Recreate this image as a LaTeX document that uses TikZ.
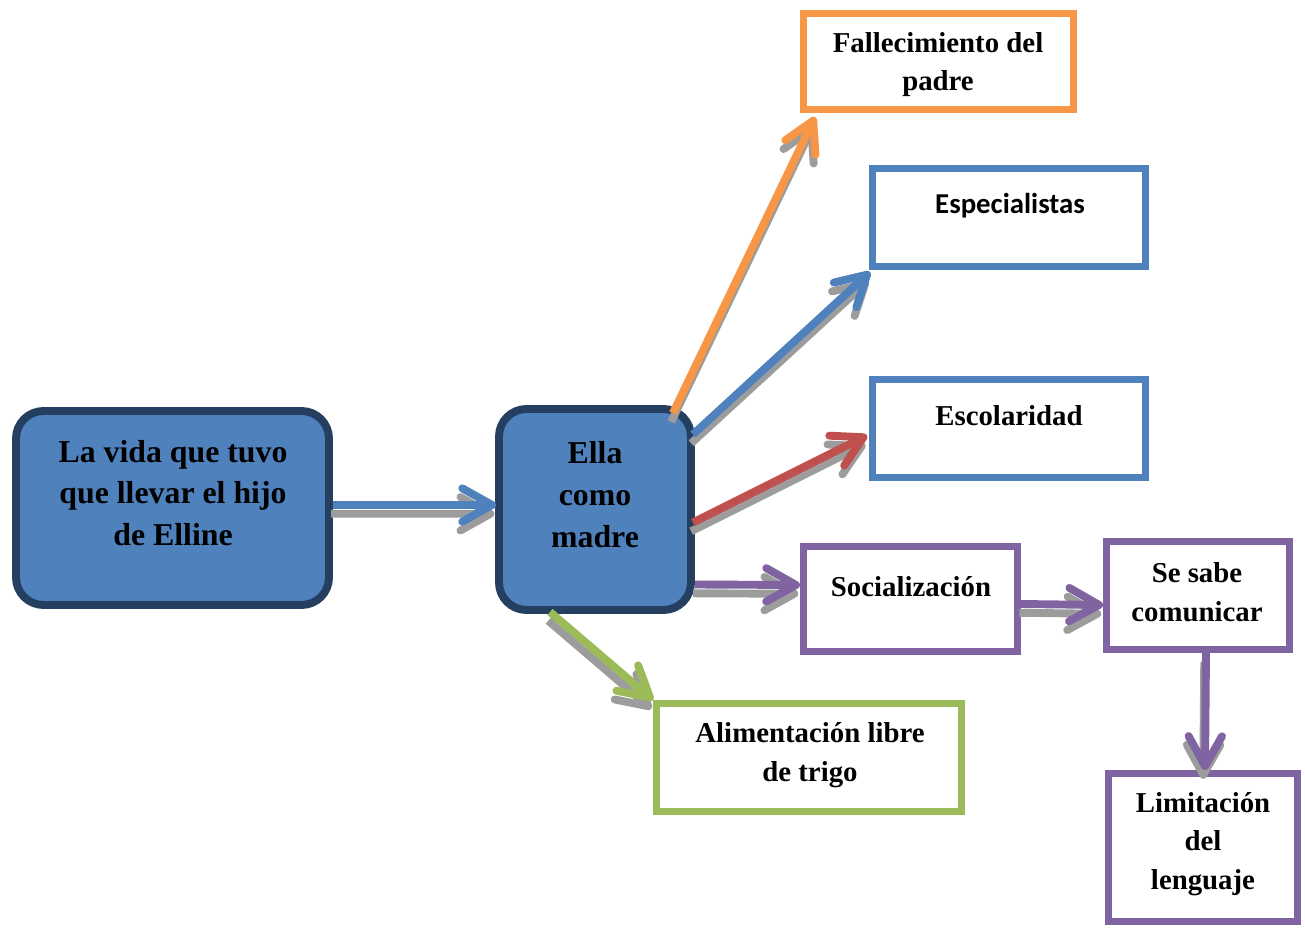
\documentclass[tikz,border=0pt]{standalone}
\usepackage{fontspec}
\setmainfont{Liberation Serif}
\newfontfamily\calfont{Carlito}
\usetikzlibrary{arrows.meta,calc,fit}
\definecolor{cblue}{HTML}{4F81BD}
\definecolor{cdark}{HTML}{243F60}
\definecolor{corange}{HTML}{F79646}
\definecolor{cred}{HTML}{C0504D}
\definecolor{cpurple}{HTML}{8064A2}
\definecolor{cgreen}{HTML}{9BBB59}
\definecolor{cshadow}{HTML}{9C9C9C}
\tikzset{
  rbox/.style={draw=cdark, fill=cblue, line width=4.5pt, rounded corners=0.55cm, inner sep=0pt},
  sbox/.style={line width=4pt, fill=white, inner sep=0pt},
  bigtxt/.style={font=\bfseries\fontsize{18.1}{23.8}\selectfont, align=center},
  smtxt/.style={font=\bfseries\fontsize{16.4}{22.1}\selectfont, align=center},
  arr/.style={line width=4.5pt, -{Straight Barb[length=17pt, width=19pt, round]}},
}
\newcommand\shadarrow[3]{%
  \draw[arr, draw=cshadow, transform canvas={xshift=-1pt,yshift=-5pt}] #2 -- #3;
  \draw[arr, draw=#1] #2 -- #3;}
\begin{document}
\begin{tikzpicture}[x=0.02cm, y=-0.02cm]
\useasboundingbox (0,0) rectangle (1305,928);
% boxes
\node[rbox, fit={(16,411)(329,605)}] (left) {};
\node[rbox, fit={(499,409)(691,610)}] (ella) {};
\node[sbox, draw=corange, fit={(803.5,13.5)(1073.5,109.5)}] (fall) {};
\node[sbox, draw=cblue, fit={(872.5,168.5)(1145.5,266.5)}] (esp) {};
\node[sbox, draw=cblue, fit={(872.5,379.5)(1145.5,477.5)}] (esc) {};
\node[sbox, draw=cpurple, fit={(803.5,546.5)(1017.5,651.5)}] (soc) {};
\node[sbox, draw=cpurple, fit={(1106.5,541.5)(1289.5,649.5)}] (sabe) {};
\node[sbox, draw=cpurple, fit={(1108.5,773.5)(1297.5,921.5)}] (lim) {};
\node[sbox, draw=cgreen, fit={(656.5,703.5)(961.5,811.5)}] (ali) {};
% texts
\node[bigtxt] (tleft) at (173,493) {La vida que tuvo\\que llevar el hijo\\de Elline};
\node[bigtxt] (tella) at (595,494.5) {Ella\\como\\madre};
\node[smtxt] (tfall) at (938,64.5) {Fallecimiento del\\padre};
\node[smtxt, font=\calfont\bfseries\fontsize{16.4}{22.1}\selectfont] (tesp) at (1010,206) {Especialistas};
\node[smtxt] (tesc) at (1009,416) {Escolaridad};
\node[smtxt] (tsoc) at (911,587) {Socialización};
\node[smtxt] (tsabe) at (1197,592) {Se sabe\\comunicar};
\node[smtxt] (tlim) at (1203,844) {Limitación\\del\\lenguaje};
\node[smtxt] (tali) at (810,755.5) {Alimentación libre\\de trigo};
% arrows
\shadarrow{cblue}{($(left.east)+(0,-3)$)}{($(ella.west)+(1,-4.5)$)}
\shadarrow{corange}{($(ella.north east)+(-22,8)$)}{($(fall.south west)+(15,4)$)}
\shadarrow{cblue}{($(ella.east)+(-2,-75)$)}{($(esp.south west)+(1,2)$)}
\shadarrow{cred}{($(ella.east)+(-2,13)$)}{($(esc.west)+(-2,7)$)}
\shadarrow{cpurple}{($(ella.east)+(0,75)$)}{($(soc.west)+(0,-14)$)}
\shadarrow{cpurple}{($(soc.east)+(0,5)$)}{($(sabe.west)+(0,9.5)$)}
\shadarrow{cpurple}{($(sabe.south)+(8,0)$)}{($(lim.north)+(2,0)$)}
\shadarrow{cgreen}{($(ella.south)+(-45,-2)$)}{(ali.north west)}
\end{tikzpicture}
\end{document}
